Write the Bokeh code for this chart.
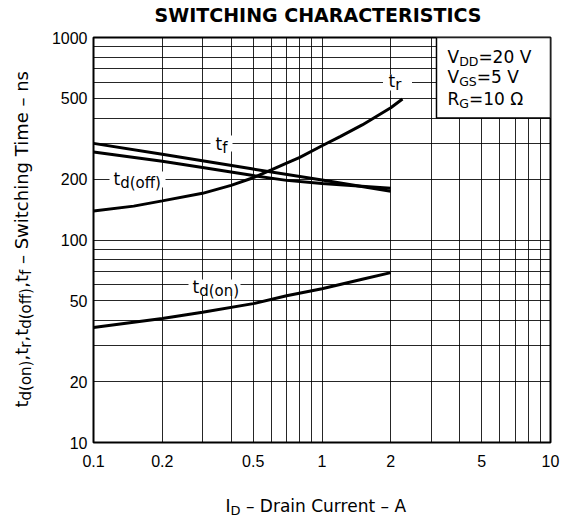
import math
from bokeh.plotting import figure
from bokeh.models import FixedTicker, Label, BoxAnnotation, CustomJSTickFormatter, ColumnDataSource
from bokeh.layouts import row, column
from bokeh.core.properties import value
from bokeh.embed import file_html
from bokeh.resources import INLINE

# ---------------- data ----------------
x_ticks = [0.1, 0.2, 0.5, 1, 2, 5, 10]
y_ticks = [10, 20, 50, 100, 200, 500, 1000]
x_grid = [0.1, 0.2, 0.3, 0.4, 0.5, 0.6, 0.7, 0.8, 0.9, 1, 2, 3, 4, 5, 6, 7, 8, 9, 10]
y_grid = [10, 20, 30, 40, 50, 60, 70, 80, 90, 100, 200, 300, 400, 500, 600, 700, 800, 900, 1000]

tr_x = [0.1, 0.15, 0.2, 0.3, 0.4, 0.5, 0.6, 0.7, 0.8, 1.0, 1.2, 1.5, 2.0, 2.25]
tr_y = [139, 147, 156, 170, 186, 203, 222, 240, 256, 292, 324, 370, 450, 497]

tf_x = [0.1, 0.2, 0.5, 1.0, 2.0]
tf_y = [300, 265, 224, 198, 174]

tdoff_x = [0.1, 0.2, 0.3, 0.5, 0.7, 1.0, 2.0]
tdoff_y = [272, 245, 228, 208, 197, 190, 180]

tdon_x = [0.1, 0.2, 0.3, 0.5, 0.7, 1.0, 1.5, 2.0]
tdon_y = [37, 41, 44, 48.5, 53, 57.5, 64, 69]

title_text = "SWITCHING CHARACTERISTICS"

# ---------------- text width helper (DejaVu Sans advances, em) ----------------
W = {' ': 0.318, '(': 0.390, ')': 0.390, ',': 0.318, '.': 0.318, '=': 0.838, '–': 0.5, '—': 1.0,
     'Ω': 0.764, 'A': 0.684, 'C': 0.698, 'D': 0.770, 'G': 0.775, 'I': 0.295, 'R': 0.695,
     'S': 0.635, 'T': 0.611, 'V': 0.684, 'a': 0.613, 'c': 0.550, 'd': 0.635, 'e': 0.615,
     'f': 0.352, 'g': 0.635, 'h': 0.634, 'i': 0.278, 'm': 0.974, 'n': 0.634, 'o': 0.612,
     'r': 0.411, 's': 0.521, 't': 0.392, 'u': 0.634, 'w': 0.818}
for d in "0123456789":
    W[d] = 0.636

BASE_FIX = 0.4  # renderer places "alphabetic" text ~0.4 em low; lift it back


def tw(s, size):
    return sum(W.get(c, 0.6) for c in s) * size


def text_fig(w, h):
    f = figure(width=w, height=h, x_range=(0, w), y_range=(0, h),
               output_backend="svg", toolbar_location=None,
               x_axis_location=None, y_axis_location=None,
               min_border=0, min_border_left=0, min_border_right=0,
               min_border_top=0, min_border_bottom=0, frame_align=False)
    f.xgrid.visible = False
    f.ygrid.visible = False
    f.outline_line_color = None
    f.background_fill_color = "white"
    f.border_fill_color = "white"
    return f


def compose_glyph(f, parts, x0, y0, rotate=False):
    xs, ys, ts, ss = [], [], [], []
    pos = 0.0
    for txt, size, shift, gap in parts:
        pos += gap
        fix = BASE_FIX * size
        if rotate:
            xs.append(x0 + shift - fix)
            ys.append(y0 + pos)
        else:
            xs.append(x0 + pos)
            ys.append(y0 - shift + fix)
        ts.append(txt)
        ss.append(f"{size}px")
        pos += tw(txt, size)
    src = ColumnDataSource(dict(x=xs, y=ys, text=ts, size=ss))
    f.text(x="x", y="y", text="text", source=src, text_font_size="size",
           text_font=value("DejaVu Sans"), text_color="black",
           text_align="left", text_baseline="alphabetic",
           angle=(math.pi / 2 if rotate else 0))


# ---------------- main figure ----------------
p = figure(width=525, height=454, x_axis_type="log", y_axis_type="log",
           x_range=(0.1, 10), y_range=(10, 1000),
           output_backend="svg", toolbar_location=None, frame_align=False,
           min_border_left=57, min_border_right=11, min_border_top=11, min_border_bottom=38)
p.background_fill_color = "white"
p.border_fill_color = "white"
p.outline_line_color = "black"
p.outline_line_width = 2

fmt = CustomJSTickFormatter(code="return tick.toString();")
for ax, ticks in ((p.xaxis[0], x_ticks), (p.yaxis[0], y_ticks)):
    ax.ticker = FixedTicker(ticks=ticks)
    ax.formatter = fmt
    ax.axis_line_color = None
    ax.major_tick_in = 0
    ax.major_tick_out = 0
    ax.minor_tick_line_color = None
    ax.major_tick_line_color = None
    ax.major_label_text_font = "Liberation Sans"
    ax.major_label_text_font_size = "16px"
    ax.major_label_text_color = "black"
p.xaxis[0].major_label_standoff = 12
p.yaxis[0].major_label_standoff = 6

p.xgrid[0].ticker = FixedTicker(ticks=x_grid)
p.ygrid[0].ticker = FixedTicker(ticks=y_grid)
for g in (p.xgrid[0], p.ygrid[0]):
    g.grid_line_color = "black"
    g.grid_line_width = 1
    g.grid_line_alpha = 0.85

for xs, ys in ((tr_x, tr_y), (tf_x, tf_y), (tdoff_x, tdoff_y), (tdon_x, tdon_y)):
    p.line(xs, ys, line_color="black", line_width=3)

# legend box
p.add_layout(BoxAnnotation(left=3.17, right=10, bottom=400, top=1000,
                           fill_color="white", fill_alpha=1.0,
                           line_color="black", line_width=1.5, line_alpha=1.0))

# white gaps behind curve labels (screen units, relative to frame)
for cx, cy, w, h in ((304, 360, 29, 16), (128, 299, 22, 16), (44, 263, 56, 16), (121, 155, 52, 16)):
    p.add_layout(BoxAnnotation(left=cx - w / 2, right=cx + w / 2, bottom=cy - h / 2, top=cy + h / 2,
                               left_units="screen", right_units="screen",
                               top_units="screen", bottom_units="screen",
                               fill_color="white", fill_alpha=1.0, line_color=None))


def compose_label(parts, sx, sy):
    pos = 0.0
    for txt, size, shift in parts:
        lab = Label(x=sx + pos, y=sy - shift + BASE_FIX * size, x_units="screen", y_units="screen",
                    text=txt, text_font="DejaVu Sans", text_font_size=f"{size}px",
                    text_baseline="alphabetic", text_align="left", text_color="black")
        p.add_layout(lab)
        pos += tw(txt, size)


# legend text
compose_label([("V", 17, 0), ("DD", 12.5, 3), ("=20 V", 17, 0)], 354, 378.7)
compose_label([("V", 17, 0), ("GS", 12.5, 3), ("=5 V", 17, 0)], 354, 358.7)
compose_label([("R", 17, 0), ("G", 12.5, 3), ("=10 Ω", 17, 0)], 354, 337)

# curve labels
compose_label([("t", 17, 0), ("r", 15, 3)], 295, 355)
compose_label([("t", 17, 0), ("f", 15, 3)], 122, 292)
compose_label([("t", 17, 0), ("d(off)", 15, 3)], 20, 257)
compose_label([("t", 17, 0), ("d(on)", 15, 3)], 99, 149)

# ---------------- outer text figures ----------------
top_f = text_fig(525, 26)
top_f.text(x=[281.5], y=[4 + BASE_FIX * 19], text=[title_text], text_font=value("DejaVu Sans"),
           text_font_style="bold", text_font_size="19px", text_color="black",
           text_align="center", text_baseline="alphabetic")

bot_f = text_fig(525, 41)
compose_glyph(bot_f, [("I", 17, 0, 0), ("D", 13, 3.5, 0), ("– Drain Current – A", 17, 0, 5.4)], 189, 9)

left_f = text_fig(36, 521)
compose_glyph(left_f, [("t", 18, 0, 0), ("d(on)", 15, 3, 0), (",t", 18, 0, 0), ("r", 15, 3, 0),
                       (",t", 18, 0, 0), ("d(off)", 15, 3, 0), (",t", 18, 0, 0), ("f", 15, 3, 0),
                       ("– Switching Time – ns", 18, 0, 5.7)], 28, 114, rotate=True)

layout = row(left_f, column(top_f, p, bot_f, spacing=0), spacing=0)

open("out.html", "w").write(file_html(layout, INLINE))
